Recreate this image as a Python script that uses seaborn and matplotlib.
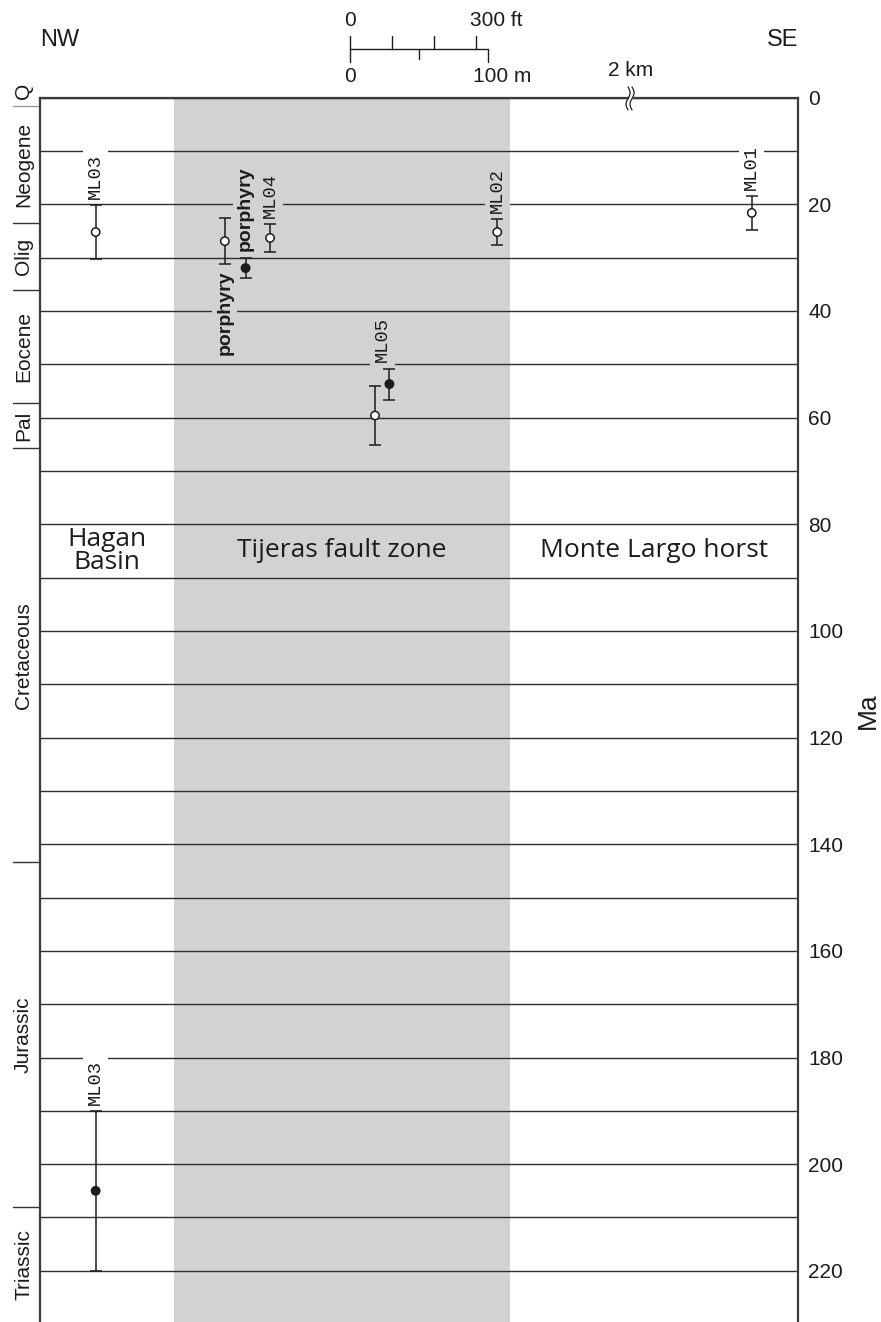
import numpy as np
import pandas as pd
import matplotlib
matplotlib.use("Agg")
import matplotlib.pyplot as plt
import matplotlib.transforms as mtransforms
import seaborn as sns

# ---------------------------------------------------------------- data
# Dated samples along the NW-SE section (distance in metres, age in Ma)
sample = ["ML03", "porphyry", "porphyry", "ML04", "ML02", "ML05", "ML05", "ML01", "ML03"]
distance_m = [40.6, 134.0, 149.0, 166.7, 331.0, 242.6, 253.0, 515.0, 40.6]
age_ma = [25.2, 26.9, 31.95, 26.3, 25.2, 59.6, 53.7, 21.6, 205.0]
age_err = [5.1, 4.3, 1.95, 2.6, 2.4, 5.6, 2.9, 3.2, 15.0]
symbol = ["open", "open", "filled", "open", "open", "open", "filled", "open", "filled"]

# Sample labels: text, which points they belong to, and side of the error bar
label_text = ["ML03", "porphyry", "porphyry", "ML04", "ML02", "ML05", "ML01", "ML03"]
label_members = [[0], [1], [2], [3], [4], [5, 6], [7], [8]]
label_side = ["above", "below", "above", "above", "above", "above", "above", "above"]

# Structural domains along the section (metres)
domain_names = ["Hagan\nBasin", "Tijeras fault zone", "Monte Largo horst"]
domain_edges = [0.0, 97.3, 340.2, 548.8]
domain_label_age = 85

# Geologic time scale (Ma)
periods = ["Q", "Neogene", "Olig", "Eocene", "Pal", "Cretaceous", "Jurassic", "Triassic"]
period_top = [0.0, 1.6, 23.5, 36.0, 57.3, 65.7, 143.4, 208.0]
period_base = [1.6, 23.5, 36.0, 57.3, 65.7, 143.4, 208.0, 251.0]

age_ticks = list(range(0, 221, 20))
age_grid = list(range(10, 221, 10))
section_break_m = 427.0

# ---------------------------------------------------------------- figure
W, H = 881, 1322
AX_L, AX_R, AX_T = 39.5, 798.5, 97.7
AGE_BOTTOM = 229.6

sns.set_theme(style="white")
plt.rcParams["font.family"] = ["Liberation Sans", "DejaVu Sans"]

INK = "#1c1c1c"
GRID = "#2e2e2e"
BAND = "#d1d2d4"

fig = plt.figure(figsize=(W / 100, H / 100), dpi=100)
ax = fig.add_axes([AX_L / W, 0, (AX_R - AX_L) / W, (H - AX_T) / H])
ax.set_xlim(domain_edges[0], domain_edges[-1])
ax.set_ylim(AGE_BOTTOM, 0)

m_per_px = (domain_edges[-1] - domain_edges[0]) / (AX_R - AX_L)


def fy(px):
    """figure fraction from a pixel row measured from the top"""
    return 1 - px / H


def fx(px):
    return px / W


data_x_fig_y = mtransforms.blended_transform_factory(ax.transData, fig.transFigure)
fig_x_data_y = mtransforms.blended_transform_factory(fig.transFigure, ax.transData)

# fault zone band
ax.axvspan(domain_edges[1], domain_edges[2], color=BAND, lw=0, zorder=0.2)

# age axis on the right, grid every 10 Ma
ax.yaxis.tick_right()
ax.set_yticks(age_ticks)
ax.set_yticks(age_grid, minor=True)
ax.set_xticks([])
ax.tick_params(axis="y", which="both", length=0, pad=7, labelsize=15, labelcolor=INK)
ax.set_axisbelow(True)
ax.grid(axis="y", which="both", color=GRID, lw=1.0)
ax.grid(axis="x", visible=False)
for side in ["top", "left", "right"]:
    ax.spines[side].set_visible(True)
    ax.spines[side].set_color("#3a3a3a")
    ax.spines[side].set_linewidth(1.6)
ax.spines["bottom"].set_visible(False)
fig.text(fx(868), fy(711), "Ma", rotation=90, ha="center", va="center",
         fontsize=19, color=INK)

# ---------------------------------------------------------------- samples
df = pd.DataFrame({"sample": sample, "distance": distance_m, "age": age_ma,
                   "err": age_err, "symbol": symbol})
ax.errorbar(df["distance"], df["age"], yerr=df["err"], fmt="none", ecolor=INK,
            elinewidth=1.1, capsize=4, capthick=1.1, zorder=4)
sns.scatterplot(data=df, x="distance", y="age", hue="symbol",
                palette={"open": "white", "filled": INK}, edgecolor=INK,
                linewidth=1.1, s=36, legend=False, zorder=5, ax=ax)
ax.set_xlabel("")
ax.set_ylabel("")

for text, members, side in zip(label_text, label_members, label_side):
    xs = df.loc[members, "distance"]
    lo = (df.loc[members, "age"] - df.loc[members, "err"]).min()
    hi = (df.loc[members, "age"] + df.loc[members, "err"]).max()
    x = xs.mean()
    bg = BAND if domain_edges[1] < x < domain_edges[2] else "white"
    if text == "porphyry":
        font = dict(family=["Liberation Sans", "DejaVu Sans"], fontsize=14, fontweight="bold")
    else:
        font = dict(family=["Liberation Mono", "DejaVu Sans Mono"], fontsize=13.5)
    if side == "above":
        xy, off, va = (x, lo), (0, 4.5), "bottom"
    else:
        xy, off, va = (x, hi), (0, -4.5), "top"
    ax.annotate(text, xy=xy, xytext=off, textcoords="offset points",
                rotation=90, ha="center", va=va, color=INK, zorder=3,
                bbox=dict(facecolor=bg, edgecolor="none", pad=3), **font)

# ---------------------------------------------------------------- domains
for name, a, b in zip(domain_names, domain_edges[:-1], domain_edges[1:]):
    ax.text((a + b) / 2, domain_label_age, name, ha="center", va="center",
            fontsize=19, family=["Open Sans", "DejaVu Sans"], color=INK,
            linespacing=0.88, zorder=3)

# ---------------------------------------------------------------- time scale
for name, top, base in zip(periods, period_top, period_base):
    if name == "Q":
        yc = -1.3
    else:
        yc = (top + min(base, AGE_BOTTOM)) / 2
    ax.text(fx(23.5), yc, name, transform=fig_x_data_y, rotation=90,
            ha="center", va="center", fontsize=15, color=INK, clip_on=False)
for i, b in enumerate(period_base[:-1]):
    ax.plot([fx(13), fx(AX_L)], [b, b], transform=fig_x_data_y,
            color="#9a9a9a" if i == 0 else "#333333", lw=1.0, clip_on=False)

# ---------------------------------------------------------------- header
fig.text(fx(40), fy(40), "NW", ha="left", va="center", fontsize=17, color=INK)
fig.text(fx(AX_R), fy(40), "SE", ha="right", va="center", fontsize=17, color=INK)

# scale bar: feet above, metres below
bar_x0 = 224.5
ft_ticks = [0, 100, 200, 300]
m_ticks = [0, 50, 100]
bar_y = 49.3
ax.plot([bar_x0, bar_x0 + 100], [fy(bar_y)] * 2, transform=data_x_fig_y,
        color=INK, lw=1.0, clip_on=False)
for f in ft_ticks:
    xm = bar_x0 + f * 0.3048
    ax.plot([xm, xm], [fy(bar_y), fy(36)], transform=data_x_fig_y,
            color=INK, lw=1.0, clip_on=False)
for m in m_ticks:
    xm = bar_x0 + m
    ax.plot([xm, xm], [fy(bar_y), fy(59 if m == 50 else 61.7)],
            transform=data_x_fig_y, color=INK, lw=1.0, clip_on=False)
ax.text(bar_x0, fy(21), "0", transform=data_x_fig_y, ha="center", va="center",
        fontsize=15, color=INK)
ax.text(bar_x0 + 86.7, fy(21), "300 ft", transform=data_x_fig_y, ha="left",
        va="center", fontsize=15, color=INK)
ax.text(bar_x0, fy(76), "0", transform=data_x_fig_y, ha="center", va="center",
        fontsize=15, color=INK)
ax.text(bar_x0 + 89.0, fy(76), "100 m", transform=data_x_fig_y, ha="left",
        va="center", fontsize=15, color=INK)

# section break on the top edge
ax.text(section_break_m + 0.5, fy(71), "2 km", transform=data_x_fig_y,
        ha="center", va="center", fontsize=15, color=INK)
t = np.linspace(0, 1, 60)
wave = 2.0 * np.sin(2 * np.pi * t)
rows = 87 + 23 * t
left = section_break_m - 2.0 * m_per_px + wave * m_per_px
right = section_break_m + 2.0 * m_per_px + wave * m_per_px
ax.fill_betweenx(fy(rows), left, right, transform=data_x_fig_y, color="white",
                 lw=0, zorder=6, clip_on=False)
for xs in (left, right):
    ax.plot(xs, fy(rows), transform=data_x_fig_y, color=INK, lw=0.9,
            zorder=7, clip_on=False)

fig.savefig("out.png", dpi=100)
